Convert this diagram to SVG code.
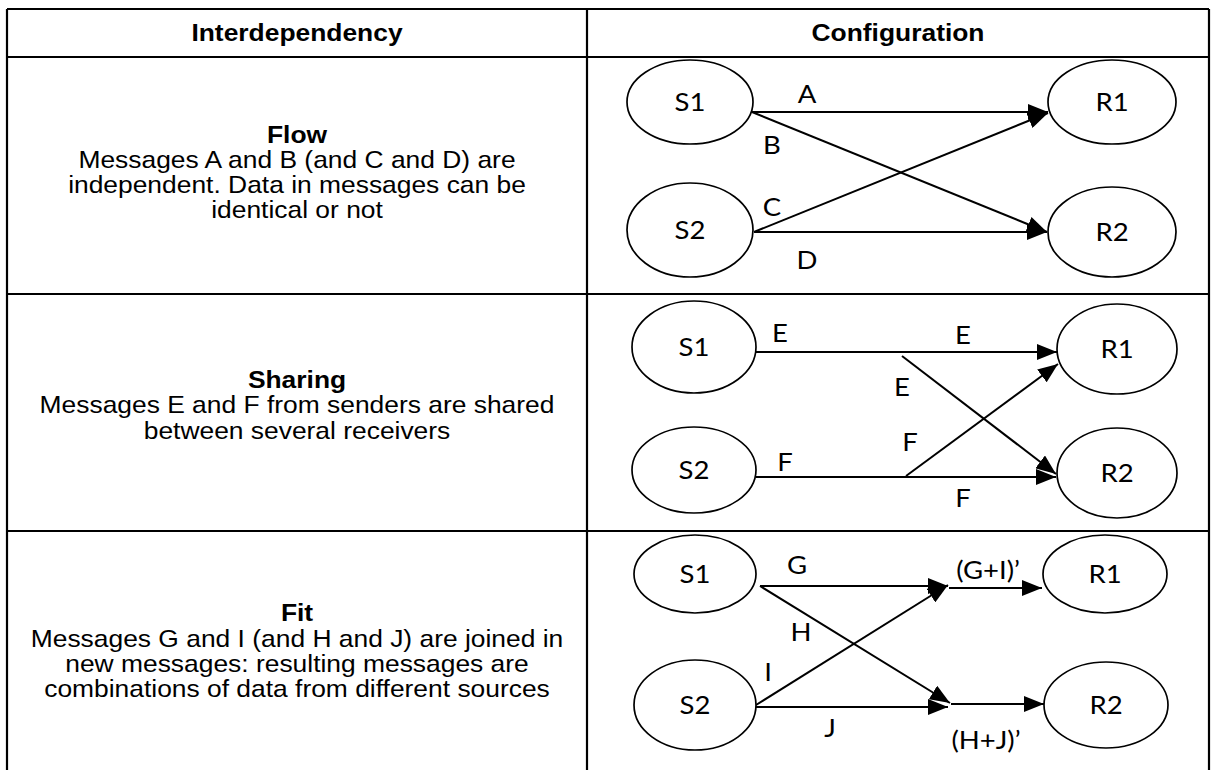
<svg xmlns="http://www.w3.org/2000/svg" width="1212" height="770" viewBox="0 0 1212 770">
<style>
.tb{stroke:#000;stroke-width:2.2;fill:none}
.hd{font-family:"Liberation Sans",Arial,sans-serif;font-size:24px;font-weight:bold;text-anchor:middle;fill:#000}
.tx{font-family:"Liberation Sans",Arial,sans-serif;font-size:24px;text-anchor:middle;fill:#000}
.lb{font-family:Lato,"Open Sans",sans-serif;font-size:25px;text-anchor:middle;fill:#000}
.nd{fill:#fff;stroke:#000;stroke-width:1.7}
.cn{stroke:#000;stroke-width:2;fill:none;marker-end:url(#ah)}
</style>
<defs>
<marker id="ah" markerUnits="userSpaceOnUse" markerWidth="20" markerHeight="16" refX="20" refY="8" orient="auto">
<path d="M0,0 L20,8 L0,16 z" fill="#000"/>
</marker>
</defs>
<rect width="1212" height="770" fill="#fff"/>
<g id="table">
<path class="tb" d="M7,9 H1209 M7,57 H1209 M7,294 H1209 M7,531 H1209 M7,9 V770 M587,9 V770 M1209,9 V770"/>
<text class="hd" transform="translate(297,41) scale(1.1,1)">Interdependency</text>
<text class="hd" transform="translate(898,41) scale(1.1,1)">Configuration</text>
</g>
<g id="desc-flow">
<text class="hd" transform="translate(297,143) scale(1.1,1)">Flow</text>
<text class="tx" transform="translate(297,168) scale(1.1,1)">Messages A and B (and C and D) are</text>
<text class="tx" transform="translate(297,193) scale(1.1,1)">independent. Data in messages can be</text>
<text class="tx" transform="translate(297,218) scale(1.1,1)">identical or not</text>
</g>
<g id="desc-sharing">
<text class="hd" transform="translate(297,388) scale(1.1,1)">Sharing</text>
<text class="tx" transform="translate(297,413) scale(1.1,1)">Messages E and F from senders are shared</text>
<text class="tx" transform="translate(297,439) scale(1.1,1)">between several receivers</text>
</g>
<g id="desc-fit">
<text class="hd" transform="translate(297,621) scale(1.1,1)">Fit</text>
<text class="tx" transform="translate(297,647) scale(1.1,1)">Messages G and I (and H and J) are joined in</text>
<text class="tx" transform="translate(297,672) scale(1.1,1)">new messages: resulting messages are</text>
<text class="tx" transform="translate(297,697) scale(1.1,1)">combinations of data from different sources</text>
</g>
<g id="connectors">
<path class="cn" d="M752,112 H1048"/>
<path class="cn" d="M752,112 L1047,232"/>
<path class="cn" d="M754,232 L1048,113"/>
<path class="cn" d="M754,232 H1047"/>
<path class="cn" d="M756,352 H1057"/>
<path class="cn" d="M902,356 L1056,474"/>
<path class="cn" d="M756,477 H1056"/>
<path class="cn" d="M906,476 L1058,364"/>
<path class="cn" d="M760,586 H948"/>
<path class="cn" d="M949,588 H1042"/>
<path class="cn" d="M760,586 L950,703"/>
<path class="cn" d="M756,705 L948,585"/>
<path class="cn" d="M756,707 H948"/>
<path class="cn" d="M951,704 H1044"/>
<text class="lb" transform="translate(807,103) scale(1.1,1)">A</text>
<text class="lb" transform="translate(772,154) scale(1.1,1)">B</text>
<text class="lb" transform="translate(772,216) scale(1.1,1)">C</text>
<text class="lb" transform="translate(807,269) scale(1.1,1)">D</text>
<text class="lb" transform="translate(780,342) scale(1.1,1)">E</text>
<text class="lb" transform="translate(963,344) scale(1.1,1)">E</text>
<text class="lb" transform="translate(902,396) scale(1.1,1)">E</text>
<text class="lb" transform="translate(910,451) scale(1.1,1)">F</text>
<text class="lb" transform="translate(785,471) scale(1.1,1)">F</text>
<text class="lb" transform="translate(963,507) scale(1.1,1)">F</text>
<text class="lb" transform="translate(797,574) scale(1.1,1)">G</text>
<text class="lb" transform="translate(988,579) scale(1.1,1)">(G+I)’</text>
<text class="lb" transform="translate(801,641) scale(1.1,1)">H</text>
<text class="lb" transform="translate(768,681) scale(1.1,1)">I</text>
<text class="lb" transform="translate(830,737) scale(1.1,1)">J</text>
<text class="lb" transform="translate(986,749) scale(1.1,1)">(H+J)’</text>
</g>
<g id="flow-S1"><ellipse class="nd" cx="690" cy="102" rx="63" ry="42"/><text class="lb" transform="translate(690,111) scale(1.1,1)">S1</text></g>
<g id="flow-S2"><ellipse class="nd" cx="690" cy="230" rx="63" ry="47"/><text class="lb" transform="translate(690,239) scale(1.1,1)">S2</text></g>
<g id="flow-R1"><ellipse class="nd" cx="1112" cy="102" rx="64" ry="42"/><text class="lb" transform="translate(1112,111) scale(1.1,1)">R1</text></g>
<g id="flow-R2"><ellipse class="nd" cx="1112" cy="232" rx="64" ry="45"/><text class="lb" transform="translate(1112,241) scale(1.1,1)">R2</text></g>
<g id="sharing-S1"><ellipse class="nd" cx="694" cy="347" rx="62" ry="46"/><text class="lb" transform="translate(694,356) scale(1.1,1)">S1</text></g>
<g id="sharing-S2"><ellipse class="nd" cx="694" cy="470" rx="62" ry="43"/><text class="lb" transform="translate(694,479) scale(1.1,1)">S2</text></g>
<g id="sharing-R1"><ellipse class="nd" cx="1117" cy="349" rx="60" ry="45"/><text class="lb" transform="translate(1117,358) scale(1.1,1)">R1</text></g>
<g id="sharing-R2"><ellipse class="nd" cx="1117" cy="473" rx="60" ry="45"/><text class="lb" transform="translate(1117,482) scale(1.1,1)">R2</text></g>
<g id="fit-S1"><ellipse class="nd" cx="695" cy="574" rx="61" ry="39"/><text class="lb" transform="translate(695,583) scale(1.1,1)">S1</text></g>
<g id="fit-S2"><ellipse class="nd" cx="695" cy="705" rx="61" ry="45"/><text class="lb" transform="translate(695,714) scale(1.1,1)">S2</text></g>
<g id="fit-R1"><ellipse class="nd" cx="1105" cy="574" rx="62" ry="39"/><text class="lb" transform="translate(1105,583) scale(1.1,1)">R1</text></g>
<g id="fit-R2"><ellipse class="nd" cx="1106" cy="705" rx="62" ry="43"/><text class="lb" transform="translate(1106,714) scale(1.1,1)">R2</text></g>
</svg>
